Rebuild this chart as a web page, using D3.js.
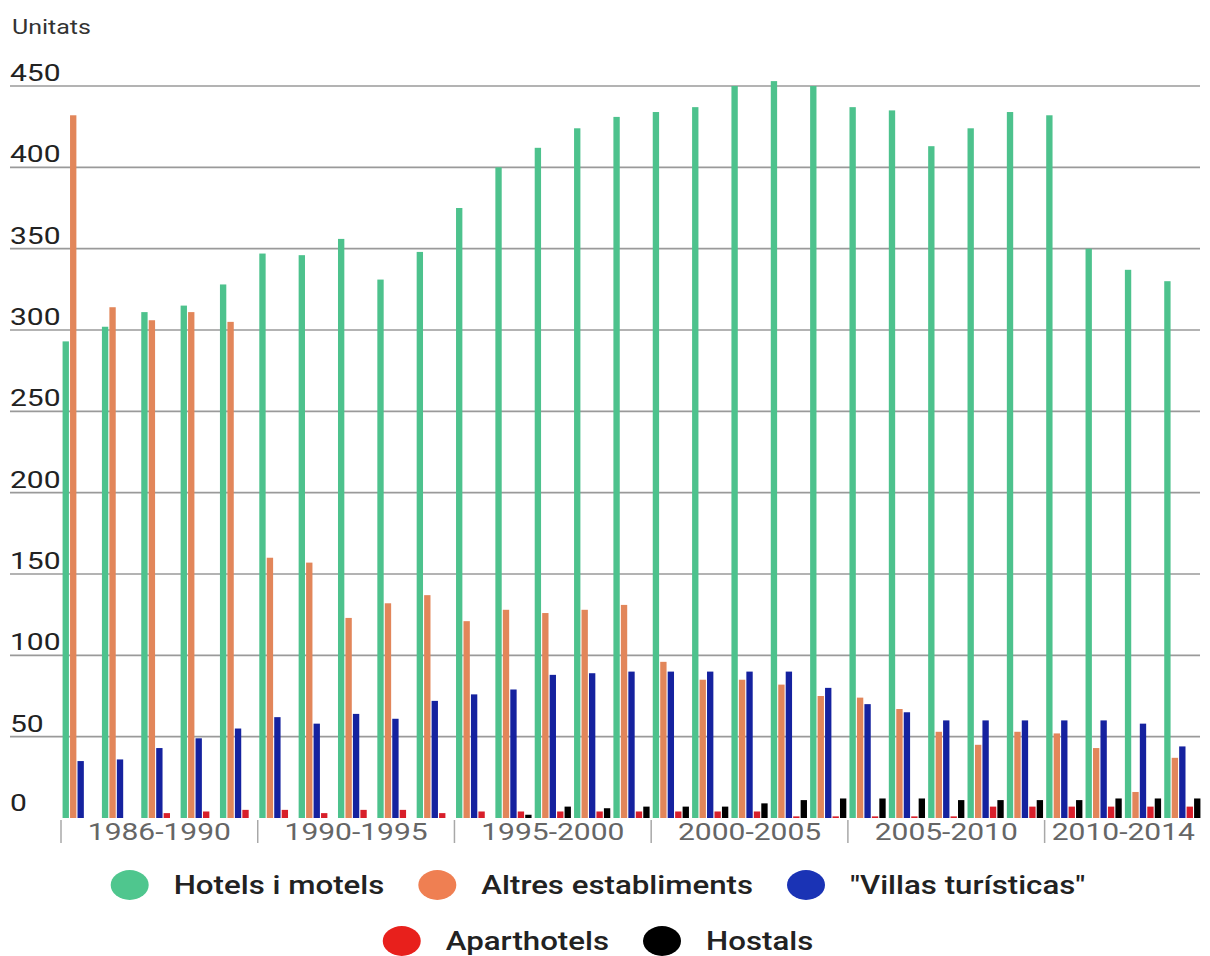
<!DOCTYPE html>
<html>
<head>
<meta charset="utf-8">
<script src="https://cdn.jsdelivr.net/npm/d3@7"></script>
<style>
  html, body { margin: 0; padding: 0; background: #fff; }
  svg { display: block; }
</style>
</head>
<body>
<svg id="chart" width="1210" height="956"></svg>
<script>
// ---------- DATA ----------
const years = [1986,1987,1988,1989,1990,1991,1992,1993,1994,1995,1996,1997,1998,1999,2000,
               2001,2002,2003,2004,2005,2006,2007,2008,2009,2010,2011,2012,2013,2014];
const seriesNames = ["Hotels i motels", "Altres establiments", "\"Villas turísticas\"", "Aparthotels", "Hostals"];
const hotelsMotels = [293,302,311,315,328,347,346,356,331,348,375,400,412,424,431,434,437,450,453,450,437,435,413,424,434,432,350,337,330];
const altresEstabliments = [432,314,306,311,305,160,157,123,132,137,121,128,126,128,131,96,85,85,82,75,74,67,53,45,53,52,43,16,37];
const villasTuristicas = [35,36,43,49,55,62,58,64,61,72,76,79,88,89,90,90,90,90,90,80,70,65,60,60,60,60,60,58,44];
const aparthotels = [0,0,3,4,5,5,3,5,5,3,4,4,4,4,4,4,4,4,1,1,1,1,1,7,7,7,7,7,7];
const hostals = [0,0,0,0,0,0,0,0,0,0,0,2,7,6,7,7,7,9,11,12,12,12,11,11,11,11,12,12,12];
const periodLabels = ["1986-1990","1990-1995","1995-2000","2000-2005","2005-2010","2010-2014"];
const periodStarts = [1986,1991,1996,2001,2006,2011];
const periodEnds   = [1990,1995,2000,2005,2010,2014];
const yTicks = [0,50,100,150,200,250,300,350,400,450];
const yTitle = "Unitats";
const legendRows = [[0,1,2],[3,4]];

// ---------- STYLE ----------
const barColors = ["#4dc28d", "#e2865a", "#15229f", "#d81f2a", "#000000"];
const legendColors = ["#4fc68e", "#ef7f52", "#1a33b5", "#e8201c", "#000000"];
const SX = 1.25; // horizontal stretch of the original raster

const svg = d3.select("#chart");
const values = [hotelsMotels, altresEstabliments, villasTuristicas, aparthotels, hostals];

const x0 = d3.scaleBand().domain(years).range([61, 1202]).paddingInner(0.08).paddingOuter(0.04);
const x1 = d3.scaleBand().domain(d3.range(seriesNames.length)).range([0, x0.bandwidth()]).paddingInner(0.15);
const y = d3.scaleLinear().domain([0, 450]).range([818, 86]);

function stext(g, str, x, yy, opts) {
  const t = g.append("text")
    .attr("transform", `translate(${x},${yy}) scale(${SX},1)`)
    .attr("font-family", opts.family || "Roboto, 'Noto Sans', sans-serif")
    .attr("font-size", opts.size)
    .attr("font-weight", opts.weight || 400)
    .attr("fill", opts.fill || "#222")
    .attr("text-anchor", opts.anchor || "start")
    .text(str);
  return t;
}

// gridlines (no line at 0)
const grid = svg.append("g");
grid.selectAll("line").data(yTicks.filter(d => d > 0)).join("line")
  .attr("x1", 10).attr("x2", 1200)
  .attr("y1", d => y(d)).attr("y2", d => y(d))
  .attr("stroke", "#9a9a9a").attr("stroke-width", 1.6);

// y tick labels
const yl = svg.append("g");
yTicks.forEach(t => {
  stext(yl, String(t), 10, y(t) - (t === 0 ? 7 : 5), {size: 24, fill: "#222"});
});
stext(svg, yTitle, 12, 34, {size: 20, fill: "#333"});

// bars
const groups = svg.append("g").selectAll("g").data(years).join("g")
  .attr("transform", d => `translate(${x0(d)},0)`);
groups.selectAll("rect")
  .data((yr, i) => values.map((arr, s) => ({s, v: arr[i]})))
  .join("rect")
  .attr("x", d => x1(d.s))
  .attr("width", x1.bandwidth())
  .attr("y", d => y(d.v))
  .attr("height", d => y(0) - y(d.v))
  .attr("fill", d => barColors[d.s]);

// x axis period separators and labels
const step = x0.step();
const gap = step - x0.bandwidth();
const xa = svg.append("g");
periodLabels.forEach((lab, i) => {
  const left = x0(periodStarts[i]) - gap / 2;
  const right = x0(periodEnds[i]) + x0.bandwidth() + gap / 2;
  xa.append("line")
    .attr("x1", left).attr("x2", left)
    .attr("y1", 820).attr("y2", 843)
    .attr("stroke", "#a8a8a8").attr("stroke-width", 1.5);
  stext(xa, lab, (left + right) / 2, 840, {size: 24, fill: "#666", anchor: "middle"});
});

// legend
const lg = svg.append("g");
const rowY = [885, 941];
const rx = 19, ry = 15, circGap = 25, itemGap = 34;
legendRows.forEach((row, r) => {
  // measure
  const items = row.map(s => {
    const t = stext(lg, seriesNames[s], 0, 0, {size: 25, weight: 500, fill: "#222"});
    const w = t.node().getComputedTextLength() * SX;
    return {s, t, w};
  });
  const total = d3.sum(items, d => 2 * rx + circGap + d.w) + itemGap * (items.length - 1);
  let cx = 598 - total / 2;
  items.forEach(it => {
    lg.append("ellipse")
      .attr("cx", cx + rx).attr("cy", rowY[r])
      .attr("rx", rx).attr("ry", ry)
      .attr("fill", legendColors[it.s]);
    const tx = cx + 2 * rx + circGap;
    it.t.attr("transform", `translate(${tx},${rowY[r] + 9}) scale(${SX},1)`);
    cx = tx + it.w + itemGap;
  });
});
</script>
</body>
</html>
